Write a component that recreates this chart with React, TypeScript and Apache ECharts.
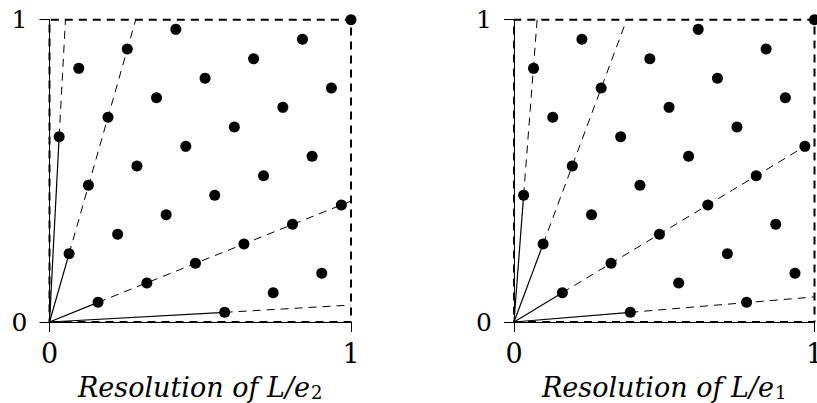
import React, { useEffect, useRef } from "react";
import * as echarts from "echarts";

// Lattice points of the two resolutions (y = k/31, k = 1..31)
const leftDotX = [0.581, 0.161, 0.742, 0.323, 0.903, 0.484, 0.065, 0.645, 0.226, 0.806, 0.387, 0.968, 0.548, 0.129, 0.71, 0.29, 0.871, 0.452, 0.032, 0.613, 0.194, 0.774, 0.355, 0.935, 0.516, 0.097, 0.677, 0.258, 0.839, 0.419, 1];
const leftDotY = [0.032, 0.065, 0.097, 0.129, 0.161, 0.194, 0.226, 0.258, 0.29, 0.323, 0.355, 0.387, 0.419, 0.452, 0.484, 0.516, 0.548, 0.581, 0.613, 0.645, 0.677, 0.71, 0.742, 0.774, 0.806, 0.839, 0.871, 0.903, 0.935, 0.968, 1];
const rightDotX = [0.387, 0.774, 0.161, 0.548, 0.935, 0.323, 0.71, 0.097, 0.484, 0.871, 0.258, 0.645, 0.032, 0.419, 0.806, 0.194, 0.581, 0.968, 0.355, 0.742, 0.129, 0.516, 0.903, 0.29, 0.677, 0.065, 0.452, 0.839, 0.226, 0.613, 1];
const rightDotY = [0.032, 0.065, 0.097, 0.129, 0.161, 0.194, 0.226, 0.258, 0.29, 0.323, 0.355, 0.387, 0.419, 0.452, 0.484, 0.516, 0.548, 0.581, 0.613, 0.645, 0.677, 0.71, 0.742, 0.774, 0.806, 0.839, 0.871, 0.903, 0.935, 0.968, 1];

// Short vectors (solid from the origin) and their extensions to the unit square (dashed)
const leftSolidX = [0.032, 0.065, 0.161, 0.581];
const leftSolidY = [0.613, 0.226, 0.065, 0.032];
const leftRayX = [0.053, 0.286, 1, 1];
const leftRayY = [1, 1, 0.4, 0.056];

const rightSolidX = [0.032, 0.097, 0.161, 0.387];
const rightSolidY = [0.419, 0.258, 0.097, 0.032];
const rightRayX = [0.077, 0.375, 1, 1];
const rightRayY = [1, 1, 0.6, 0.083];

const boxX = [0, 1, 1, 0, 0];
const boxY = [0, 0, 1, 1, 0];

const axisTicks = [0, 1];
const titleSubscripts = ["2", "1"];

const FONT = "DejaVu Serif";

function panelSeries(
  idx: number,
  dotX: number[],
  dotY: number[],
  solidX: number[],
  solidY: number[],
  rayX: number[],
  rayY: number[]
) {
  const base = { xAxisIndex: idx, yAxisIndex: idx, silent: true, clip: false };
  const series: any[] = [];
  series.push({
    ...base,
    type: "line",
    symbol: "none",
    data: boxX.map((x, i) => [x, boxY[i]]),
    lineStyle: { color: "#000", width: 2, type: [8, 6] },
    z: 2,
  });
  solidX.forEach((x, i) => {
    series.push({
      ...base,
      type: "line",
      symbol: "none",
      data: [
        [0, 0],
        [x, solidY[i]],
      ],
      lineStyle: { color: "#000", width: 1.2 },
      z: 3,
    });
    series.push({
      ...base,
      type: "line",
      symbol: "none",
      data: [
        [x, solidY[i]],
        [rayX[i], rayY[i]],
      ],
      lineStyle: { color: "#000", width: 1, type: [8, 6] },
      z: 3,
    });
  });
  series.push({
    ...base,
    type: "scatter",
    symbol: "circle",
    symbolSize: 11,
    itemStyle: { color: "#000", opacity: 1 },
    data: dotX.map((x, i) => [x, dotY[i]]),
    z: 4,
  });
  return series;
}

export default function App() {
  const ref = useRef<HTMLDivElement>(null);
  useEffect(() => {
    if (!ref.current) return;
    const chart = echarts.init(ref.current, undefined, { renderer: "svg" });
    const grids = [
      { left: 49.5, top: 19.7, width: 301.5, height: 302.3, outerBoundsMode: "none" },
      { left: 514, top: 19.7, width: 300.5, height: 302.3, outerBoundsMode: "none" },
    ];
    const xAxes = grids.map((_, i) => ({
      type: "value",
      gridIndex: i,
      min: axisTicks[0],
      max: axisTicks[1],
      interval: 1,
      axisLine: { show: true, onZero: false, lineStyle: { color: "#000", width: 1 } },
      axisTick: { show: true, length: 10, lineStyle: { color: "#000", width: 1 } },
      splitLine: { show: false },
      axisLabel: { color: "#000", fontFamily: FONT, fontSize: 27, margin: 18 },
      name: `{t|Resolution of L/e}{s|${titleSubscripts[i]}}`,
      nameLocation: "middle",
      nameGap: 37,
      nameTextStyle: {
        rich: {
          t: {
            fontFamily: FONT,
            fontStyle: "italic",
            fontSize: 27,
            color: "#000",
            lineHeight: 28,
            verticalAlign: "top",
          },
          s: {
            fontFamily: FONT,
            fontSize: 18,
            color: "#000",
            lineHeight: 18,
            padding: [12, 0, 0, 1],
            verticalAlign: "bottom",
          },
        },
      },
    }));
    const yAxes = grids.map((_, i) => ({
      type: "value",
      gridIndex: i,
      min: axisTicks[0],
      max: axisTicks[1],
      interval: 1,
      axisLine: { show: true, onZero: false, lineStyle: { color: "#000", width: 1 } },
      axisTick: { show: true, length: 10, lineStyle: { color: "#000", width: 1 } },
      splitLine: { show: false },
      axisLabel: { color: "#000", fontFamily: FONT, fontSize: 25, margin: 22 },
    }));
    chart.setOption({
      animation: false,
      backgroundColor: "#fff",
      grid: grids,
      xAxis: xAxes,
      yAxis: yAxes,
      series: [
        ...panelSeries(0, leftDotX, leftDotY, leftSolidX, leftSolidY, leftRayX, leftRayY),
        ...panelSeries(1, rightDotX, rightDotY, rightSolidX, rightSolidY, rightRayX, rightRayY),
      ],
    });
    return () => chart.dispose();
  }, []);
  return (
    <div
      ref={ref}
      style={{ position: "fixed", left: 0, top: 0, width: 817, height: 403 }}
    />
  );
}
